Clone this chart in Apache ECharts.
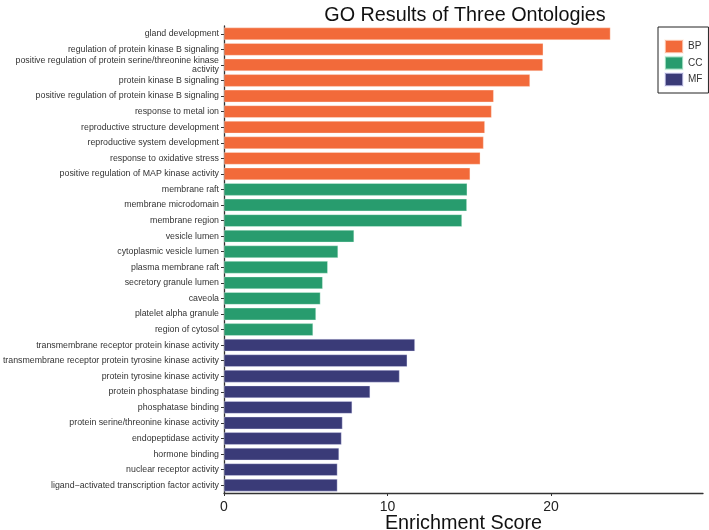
<!DOCTYPE html>
<html>
<head>
<meta charset="utf-8">
<script src="https://cdn.jsdelivr.net/npm/echarts@6/dist/echarts.min.js"></script>
<style>
  html, body { margin: 0; padding: 0; background: #fff; }
  #main { width: 709px; height: 530px; }
</style>
</head>
<body>
<div id="main"></div>
<script>
// GO terms and enrichment scores
var bpTerms = ['gland development', 'regulation of protein kinase B signaling',
  'positive regulation of protein serine/threonine kinase\nactivity', 'protein kinase B signaling',
  'positive regulation of protein kinase B signaling', 'response to metal ion',
  'reproductive structure development', 'reproductive system development',
  'response to oxidative stress', 'positive regulation of MAP kinase activity'];
var bpScores = [23.64, 19.53, 19.51, 18.72, 16.50, 16.37, 15.96, 15.88, 15.68, 15.06];

var ccTerms = ['membrane raft', 'membrane microdomain', 'membrane region', 'vesicle lumen',
  'cytoplasmic vesicle lumen', 'plasma membrane raft', 'secretory granule lumen', 'caveola',
  'platelet alpha granule', 'region of cytosol'];
var ccScores = [14.88, 14.86, 14.56, 7.96, 6.98, 6.35, 6.04, 5.90, 5.63, 5.45];

var mfTerms = ['transmembrane receptor protein kinase activity',
  'transmembrane receptor protein tyrosine kinase activity', 'protein tyrosine kinase activity',
  'protein phosphatase binding', 'phosphatase binding', 'protein serine/threonine kinase activity',
  'endopeptidase activity', 'hormone binding', 'nuclear receptor activity',
  'ligand\u2212activated transcription factor activity'];
var mfScores = [11.68, 11.21, 10.74, 8.94, 7.84, 7.25, 7.19, 7.04, 6.94, 6.94];

var xTicks = [0, 10, 20];

var categories = bpTerms.concat(ccTerms, mfTerms);

function pad(scores, before, after) {
  var out = [];
  for (var i = 0; i < before; i++) out.push('-');
  out = out.concat(scores);
  for (var j = 0; j < after; j++) out.push('-');
  return out;
}

var chart = echarts.init(document.getElementById('main'));
var font = 'Liberation Sans, Arial, Helvetica, sans-serif';

var option = {
  backgroundColor: '#fff',
  animation: false,
  textStyle: { fontFamily: font },
  title: {
    text: 'GO Results of Three Ontologies',
    left: 460,
    textAlign: 'center',
    top: 1,
    textStyle: { fontSize: 19.8, fontWeight: 'normal', color: '#111', fontFamily: font }
  },
  legend: {
    orient: 'vertical',
    left: 658,
    top: 27,
    padding: [12, 6, 6, 6],
    borderColor: '#222',
    borderWidth: 1,
    icon: 'rect',
    itemWidth: 18,
    itemHeight: 13,
    itemGap: 1.5,
    textStyle: { fontSize: 10, color: '#333', fontFamily: font },
    data: ['BP', 'CC', 'MF']
  },
  grid: { left: 224, right: 6, top: 26, bottom: 37, containLabel: false, outerBoundsMode: 'none' },
  xAxis: {
    type: 'value',
    min: 0,
    max: 29.3,
    name: 'Enrichment Score',
    nameLocation: 'middle',
    nameGap: 21,
    nameMoveOverlap: false,
    nameTextStyle: { fontSize: 19.8, color: '#111', fontFamily: font },
    axisLine: { show: true, lineStyle: { color: '#333', width: 1.3 } },
    axisTick: { show: true, length: 3, lineStyle: { color: '#333' }, customValues: xTicks },
    axisLabel: { fontSize: 14, color: '#222', margin: 7, customValues: xTicks },
    splitLine: { show: false }
  },
  yAxis: {
    type: 'category',
    inverse: true,
    data: categories,
    axisLine: { show: true, lineStyle: { color: '#333', width: 1.3 } },
    axisTick: { show: true, length: 3, alignWithLabel: true, lineStyle: { color: '#333' } },
    axisLabel: { fontSize: 8.8, color: '#333', margin: 5, align: 'right', lineHeight: 9, interval: 0 }
  },
  series: [
    {
      name: 'BP', type: 'bar', stack: 'go', barCategoryGap: '20%',
      itemStyle: { color: '#F26A3A', borderColor: 'rgba(255,240,230,0.6)', borderWidth: 0.6 },
      data: pad(bpScores, 0, 20)
    },
    {
      name: 'CC', type: 'bar', stack: 'go', barCategoryGap: '20%',
      itemStyle: { color: '#289C6E', borderColor: 'rgba(230,255,240,0.6)', borderWidth: 0.6 },
      data: pad(ccScores, 10, 10)
    },
    {
      name: 'MF', type: 'bar', stack: 'go', barCategoryGap: '20%',
      itemStyle: { color: '#3A3B78', borderColor: 'rgba(230,230,255,0.6)', borderWidth: 0.6 },
      data: pad(mfScores, 20, 0)
    }
  ]
};

chart.setOption(option);
</script>
</body>
</html>
